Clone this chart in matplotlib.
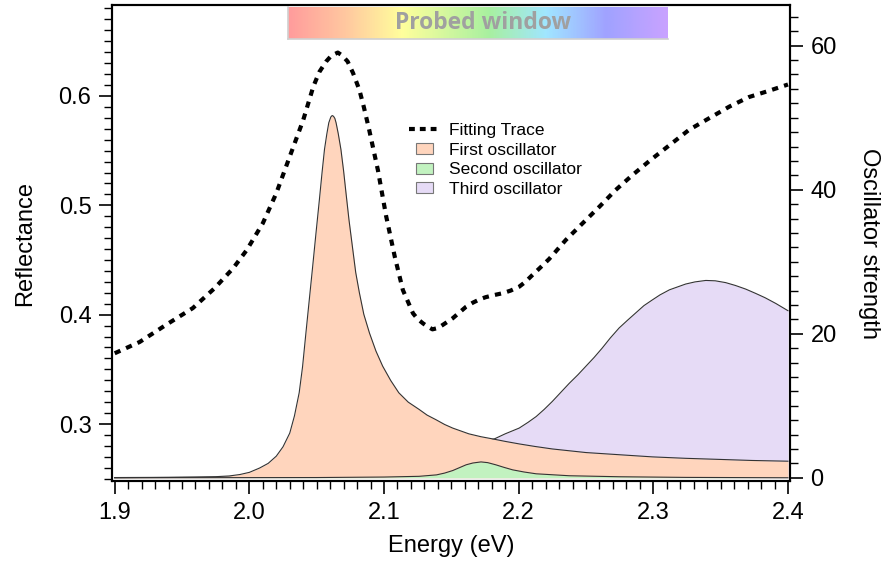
import numpy as np
import matplotlib
matplotlib.use('Agg')
import matplotlib.pyplot as plt
from matplotlib.colors import LinearSegmentedColormap
from matplotlib.patches import Patch, Rectangle
from matplotlib.lines import Line2D
from matplotlib.legend_handler import HandlerPatch
from matplotlib.ticker import MultipleLocator

plt.rcParams['font.family'] = ['Liberation Sans', 'DejaVu Sans']

# fitting trace (reflectance, left axis)
trace_e = [1.900, 1.9185, 1.938, 1.958, 1.974, 1.988, 1.998, 2.010, 2.020, 2.030,
           2.040, 2.0475, 2.052, 2.057, 2.061, 2.0657, 2.069, 2.073, 2.077, 2.0817,
           2.085, 2.089, 2.0955, 2.1016, 2.108, 2.114, 2.1215, 2.125, 2.129, 2.1325,
           2.136, 2.140, 2.1436, 2.151, 2.156, 2.161, 2.166, 2.171, 2.1755, 2.182,
           2.188, 2.194, 2.2004, 2.205, 2.2104, 2.216, 2.2227, 2.235, 2.2475, 2.260,
           2.272, 2.2846, 2.298, 2.312, 2.3265, 2.3415, 2.3565, 2.371, 2.3865, 2.400]
trace_r = [0.3647, 0.375, 0.3906, 0.406, 0.424, 0.4425, 0.459, 0.4836, 0.511, 0.5446,
           0.578, 0.6086, 0.622, 0.6315, 0.637, 0.6397, 0.637, 0.6315, 0.621, 0.6056,
           0.590, 0.569, 0.532, 0.490, 0.453, 0.4226, 0.4013, 0.396, 0.392, 0.389,
           0.3866, 0.3878, 0.3906, 0.3967, 0.402, 0.4073, 0.411, 0.414, 0.416, 0.418,
           0.4196, 0.422, 0.4256, 0.430, 0.4365, 0.443, 0.451, 0.4683, 0.4836, 0.4988,
           0.514, 0.5278, 0.5415, 0.555, 0.569, 0.5797, 0.5903, 0.599, 0.605, 0.6105]

# first oscillator (right axis)
first_e = [1.900, 1.940, 1.960, 1.975, 1.985, 1.993, 2.000, 2.0076, 2.014, 2.020,
           2.025, 2.030, 2.0335, 2.037, 2.0395, 2.042, 2.0445, 2.047, 2.0495, 2.052,
           2.054, 2.0558, 2.0575, 2.059, 2.0605, 2.0615, 2.0625, 2.0635, 2.0644, 2.066,
           2.068, 2.070, 2.0718, 2.074, 2.0768, 2.079, 2.0817, 2.085, 2.0892, 2.094,
           2.099, 2.105, 2.111, 2.118, 2.126, 2.132, 2.1386, 2.145, 2.151, 2.157,
           2.163, 2.172, 2.1806, 2.190, 2.2004, 2.212, 2.225, 2.2375, 2.250, 2.2746,
           2.2993, 2.324, 2.349, 2.3735, 2.400]
first_v = [0.03, 0.06, 0.1, 0.15, 0.25, 0.45, 0.75, 1.35, 2.0, 3.0,
           4.3, 6.2, 8.6, 11.8, 15.4, 20.1, 24.7, 29.3, 34.0, 38.6,
           42.4, 45.6, 47.7, 49.3, 50.1, 50.3, 50.2, 49.9, 49.3, 47.8,
           45.6, 42.6, 39.5, 35.8, 31.7, 28.5, 25.7, 22.7, 20.1, 17.6,
           15.5, 13.5, 11.8, 10.5, 9.5, 8.7, 8.06, 7.4, 6.9, 6.5,
           6.1, 5.7, 5.4, 5.05, 4.7, 4.35, 4.0, 3.75, 3.5, 3.2,
           2.9, 2.7, 2.55, 2.4, 2.3]

# second oscillator
second_e = [1.900, 2.050, 2.100, 2.126, 2.139, 2.145, 2.151, 2.156, 2.161, 2.166,
            2.172, 2.177, 2.183, 2.189, 2.1955, 2.204, 2.213, 2.2375, 2.275, 2.324,
            2.400]
second_v = [0.0, 0.03, 0.1, 0.2, 0.4, 0.65, 1.0, 1.4, 1.8, 2.05,
            2.2, 2.1, 1.8, 1.45, 1.1, 0.8, 0.55, 0.28, 0.14, 0.05,
            0.0]

# third oscillator
third_e = [1.900, 2.000, 2.050, 2.100, 2.140, 2.165, 2.182, 2.190, 2.2004, 2.207,
           2.213, 2.219, 2.225, 2.231, 2.2375, 2.244, 2.250, 2.256, 2.262, 2.268,
           2.2746, 2.281, 2.287, 2.293, 2.2993, 2.305, 2.312, 2.318, 2.324, 2.331,
           2.339, 2.346, 2.3537, 2.361, 2.3686, 2.376, 2.383, 2.391, 2.400]
third_v = [0.0, 0.1, 1.0, 2.2, 3.4, 4.5, 5.4, 6.1, 6.9, 7.7,
           8.5, 9.5, 10.6, 11.8, 13.1, 14.3, 15.5, 16.7, 18.0, 19.4,
           20.8, 21.9, 22.9, 23.9, 24.7, 25.4, 26.1, 26.5, 26.9, 27.2,
           27.4, 27.35, 27.1, 26.7, 26.2, 25.6, 25.0, 24.2, 23.2]

labels = ['Fitting Trace', 'First oscillator', 'Second oscillator', 'Third oscillator']
fill_colors = ['#ffd5bd', '#c2f2c0', '#e6dbf6']
window_colors = ['#ff9c9c', '#ffc8a0', '#ffff9c', '#a8f0a0', '#a0e6ff', '#a0a2ff', '#c9a2ff']
window_stops = [0.0, 0.15, 0.30, 0.53, 0.68, 0.84, 1.0]

fig = plt.figure(figsize=(8.81, 5.63), dpi=100)
ax = fig.add_axes([112 / 881, 82 / 563, 678 / 881, 476 / 563])
ax2 = ax.twinx()

ax.plot(trace_e, trace_r, color='black', lw=3.0, linestyle=(0, (1.5, 1.5)),
        dash_capstyle='butt', zorder=5)

# oscillators, drawn back to front
for e, v, c, z in [(third_e, third_v, fill_colors[2], 1),
                   (first_e, first_v, fill_colors[0], 2),
                   (second_e, second_v, fill_colors[1], 3)]:
    ax2.fill_between(e, 0, v, color=c, lw=0, zorder=z)
    ax2.plot(e, v, color='#333333', lw=0.8, zorder=z + 0.5)

ax.set_xlim(1.898, 2.4015)
ax.set_ylim(0.2479, 0.6832)
ax2.set_ylim(-0.45, 65.65)

ax.xaxis.set_major_locator(MultipleLocator(0.1))
ax.xaxis.set_minor_locator(MultipleLocator(0.01))
ax.yaxis.set_major_locator(MultipleLocator(0.1))
ax.yaxis.set_minor_locator(MultipleLocator(0.01))
ax2.yaxis.set_major_locator(MultipleLocator(20))
ax2.yaxis.set_minor_locator(MultipleLocator(2))

for a in (ax, ax2):
    a.tick_params(which='major', direction='out', length=9.3, width=1.2, labelsize=17, pad=5.5)
    a.tick_params(which='minor', direction='out', length=5.5, width=1.0)
    for s in a.spines.values():
        s.set_linewidth(1.5)
ax.tick_params(top=False, which='both')
ax.tick_params(axis='x', which='major', pad=6)

ax.set_xlabel('Energy (eV)', fontsize=17, labelpad=8)
ax.set_ylabel('Reflectance', fontsize=17, labelpad=16)
ax2.set_ylabel('Oscillator strength', fontsize=17, rotation=-90, labelpad=31)


def small_box(legend, orig_handle, xdescent, ydescent, width, height, fontsize):
    w = width * 0.53
    h = height * 0.9
    return Rectangle((xdescent + (width - w) / 2, ydescent + (height - h) / 2), w, h)


handles = [Line2D([], [], color='black', lw=3.0, linestyle=(0, (1.4, 1.2)), dash_capstyle='butt')]
handles += [Patch(facecolor=c, edgecolor='#777777', lw=0.8) for c in fill_colors]
ax2.legend(handles, labels, loc='upper left', bbox_to_anchor=(0.425, 0.771),
           frameon=False, fontsize=12.5, handlelength=1.85, handletextpad=0.45,
           labelspacing=0.26, borderpad=0,
           handler_map={Patch: HandlerPatch(patch_func=small_box)})

# "Probed window" gradient bar
bar = fig.add_axes([288 / 881, (563 - 39) / 563, 380 / 881, 32 / 563])
cmap = LinearSegmentedColormap.from_list('window', list(zip(window_stops, window_colors)))
bar.imshow(np.linspace(0, 1, 400)[None, :], aspect='auto', cmap=cmap, extent=(0, 1, 0, 1))
bar.set_xticks([])
bar.set_yticks([])
for side in ('top', 'right'):
    bar.spines[side].set_visible(False)
for side in ('left', 'bottom'):
    bar.spines[side].set_color('#d0d0d0')
    bar.spines[side].set_linewidth(1.2)
bar.text(0.513, 0.5, 'Probed window', transform=bar.transAxes, ha='center', va='center',
         fontsize=16.5, fontweight='bold', color='#a0a0a0', family=['Open Sans', 'DejaVu Sans'])

fig.savefig('out.png', dpi=100)
